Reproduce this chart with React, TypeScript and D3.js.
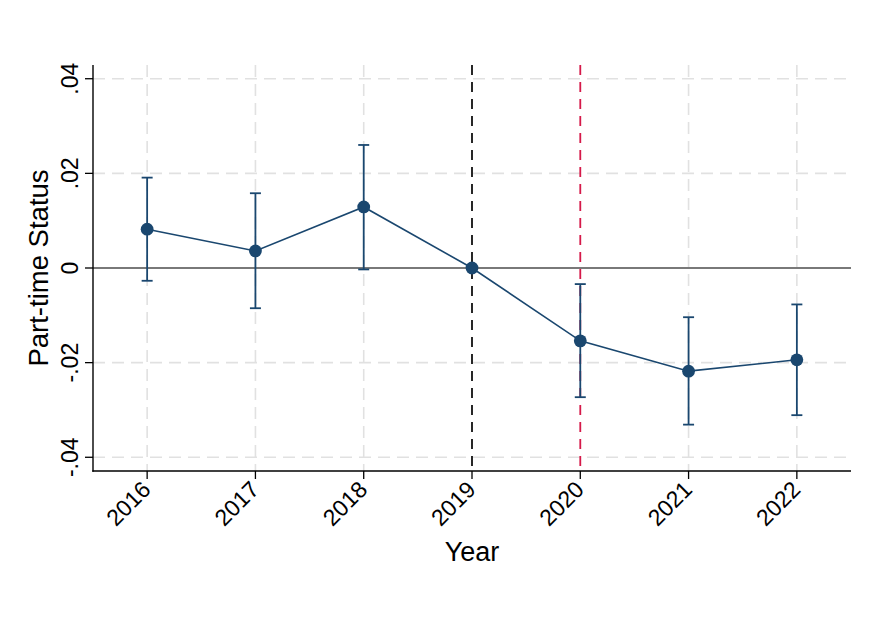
import React from "react";
import * as d3 from "d3";

const years = [2016, 2017, 2018, 2019, 2020, 2021, 2022];
const estimates = [0.0082, 0.0036, 0.0129, 0, -0.0154, -0.0218, -0.0194];
const upper = [0.0191, 0.0158, 0.026, 0, -0.0034, -0.0104, -0.0077];
const lower = [-0.0027, -0.0085, -0.0003, 0, -0.0273, -0.0331, -0.0311];
const yTicks = [-0.04, -0.02, 0, 0.02, 0.04];
const yTickLabels = ["-.04", "-.02", "0", ".02", ".04"];
const refYear = 2019;
const eventYear = 2020;

const W = 874;
const H = 636;
const L = 93, R = 851, T = 65, B = 471;
const navy = "#1a476f";
const font = "Arial, 'Liberation Sans', sans-serif";

export default function App() {
  const x = d3.scaleLinear().domain([2015.5, 2022.5]).range([L, R]);
  const y = d3.scaleLinear().domain([-0.0429, 0.0429]).range([B, T]);
  const line = d3
    .line<number>()
    .x((_, i) => x(years[i]))
    .y((d) => y(d));

  return (
    <svg width={W} height={H} style={{ position: "absolute", left: 0, top: 0, background: "#fff" }}>
      <rect width={W} height={H} fill="#fff" />
      {/* grid */}
      {yTicks.map((t) => t !== 0 && (
        <line key={"gy" + t} x1={L} x2={R} y1={y(t)} y2={y(t)} stroke="#e1e1e1" strokeWidth={1.6} strokeDasharray="12,7" />
      ))}
      {years.map((yr) => yr !== refYear && yr !== eventYear && (
        <line key={"gx" + yr} x1={x(yr)} x2={x(yr)} y1={T} y2={B} stroke="#e1e1e1" strokeWidth={1.6} strokeDasharray="12,7" />
      ))}
      {/* zero line */}
      <line x1={L} x2={R} y1={y(0)} y2={y(0)} stroke="#4d4d4d" strokeWidth={1.4} />
      {/* reference lines */}
      <line x1={x(refYear)} x2={x(refYear)} y1={T} y2={B} stroke="#111" strokeWidth={1.8} strokeDasharray="10,7" />
      <line x1={x(eventYear)} x2={x(eventYear)} y1={T} y2={B} stroke="#d5194a" strokeWidth={1.8} strokeDasharray="10,7" />
      {/* error bars */}
      {years.map((yr, i) => (
        upper[i] !== lower[i] ? (
          <g key={"e" + yr} stroke={navy} strokeWidth={1.8}>
            <line x1={x(yr)} x2={x(yr)} y1={y(upper[i])} y2={y(lower[i])} />
            <line x1={x(yr) - 5.5} x2={x(yr) + 5.5} y1={y(upper[i])} y2={y(upper[i])} />
            <line x1={x(yr) - 5.5} x2={x(yr) + 5.5} y1={y(lower[i])} y2={y(lower[i])} />
          </g>
        ) : null
      ))}
      <path d={line(estimates) || ""} fill="none" stroke={navy} strokeWidth={1.6} />
      {years.map((yr, i) => (
        <circle key={"c" + yr} cx={x(yr)} cy={y(estimates[i])} r={6.4} fill={navy} />
      ))}
      {/* axes */}
      <line x1={L} x2={L} y1={T} y2={B + 0.7} stroke="#000" strokeWidth={1.4} />
      <line x1={L - 0.7} x2={R} y1={B} y2={B} stroke="#000" strokeWidth={1.4} />
      {yTicks.map((t, i) => (
        <g key={"yt" + t}>
          <line x1={L - 8} x2={L} y1={y(t)} y2={y(t)} stroke="#000" strokeWidth={1.3} />
          <text
            transform={`translate(${L - 15},${y(t)}) rotate(-90)`}
            textAnchor="middle"
            fontFamily={font}
            fontSize={23}
            fill="#000"
          >
            {yTickLabels[i]}
          </text>
        </g>
      ))}
      {years.map((yr) => (
        <g key={"xt" + yr}>
          <line x1={x(yr)} x2={x(yr)} y1={B} y2={B + 8} stroke="#000" strokeWidth={1.3} />
          <text
            transform={`translate(${x(yr) + 5},${B + 20}) rotate(-45)`}
            textAnchor="end"
            fontFamily={font}
            fontSize={23}
            fill="#000"
          >
            {yr}
          </text>
        </g>
      ))}
      <text x={(L + R) / 2} y={561} textAnchor="middle" fontFamily={font} fontSize={27} fill="#000">
        Year
      </text>
      <text
        transform={`translate(48,${y(0)}) rotate(-90)`}
        textAnchor="middle"
        fontFamily={font}
        fontSize={27.5}
        fill="#000"
      >
        Part-time Status
      </text>
    </svg>
  );
}
